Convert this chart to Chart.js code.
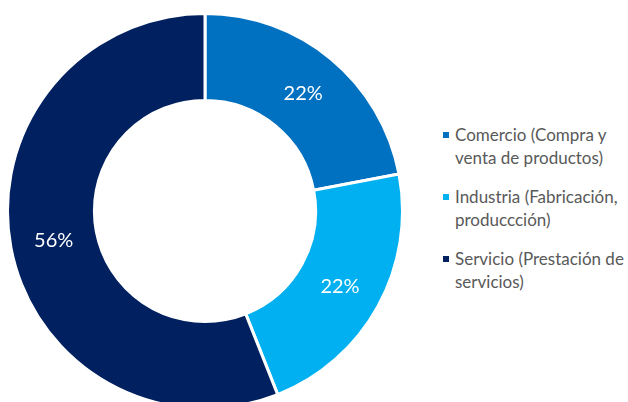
<!DOCTYPE html>
<html>
<head>
<meta charset="utf-8">
<script src="https://cdn.jsdelivr.net/npm/chart.js@4.4.0/dist/chart.umd.min.js"></script>
<style>
  html, body { margin: 0; padding: 0; background: #fff; overflow: hidden; width: 628px; height: 402px; }
  #wrap { position: absolute; left: 6px; top: 12px; width: 398px; height: 398px; }
  #legend { position: absolute; left: 441px; top: 123px; font-family: Lato, "Noto Sans", sans-serif; font-size: 17px; color: #595959; }
  .item { position: relative; padding-left: 14px; line-height: 23px; margin-bottom: 16px; }
  .box { position: absolute; left: 2px; top: 9px; width: 6px; height: 6px; }
</style>
</head>
<body>
<div id="wrap"><canvas id="myChart"></canvas></div>
<div id="legend"></div>
<script>
const categories = [
    ['Comercio (Compra y', 'venta de productos)'],
    ['Industria (Fabricación,', 'produccción)'],
    ['Servicio (Prestación de', 'servicios)']
];
const shares = [22, 22, 56];
const colors = ['#0070C0', '#00B0F0', '#002060'];

// percentage labels in the middle of each slice
const sliceLabels = {
    id: 'sliceLabels',
    afterDatasetsDraw(chart) {
        const ctx = chart.ctx;
        const meta = chart.getDatasetMeta(0);
        ctx.save();
        ctx.fillStyle = '#ffffff';
        ctx.font = '20px Lato, "Noto Sans", sans-serif';
        ctx.textAlign = 'center';
        ctx.textBaseline = 'middle';
        meta.data.forEach((arc, i) => {
            const pos = arc.tooltipPosition();
            ctx.fillText(shares[i] + '%', pos.x, pos.y + 1);
        });
        ctx.restore();
    }
};

new Chart(document.getElementById('myChart'), {
    type: 'doughnut',
    data: {
        labels: categories.map(c => c.join(' ')),
        datasets: [{
            data: shares,
            backgroundColor: colors,
            borderColor: '#ffffff',
            borderWidth: 3
        }]
    },
    options: {
        responsive: true,
        maintainAspectRatio: false,
        animation: false,
        cutout: '56%',
        plugins: {
            legend: { display: false },
            tooltip: { enabled: false }
        }
    },
    plugins: [sliceLabels]
});

// legend built from the same arrays
const legend = document.getElementById('legend');
categories.forEach((lines, i) => {
    const item = document.createElement('div');
    item.className = 'item';
    const box = document.createElement('span');
    box.className = 'box';
    box.style.background = colors[i];
    item.appendChild(box);
    lines.forEach(line => {
        const d = document.createElement('div');
        d.textContent = line;
        item.appendChild(d);
    });
    legend.appendChild(item);
});
</script>
</body>
</html>
